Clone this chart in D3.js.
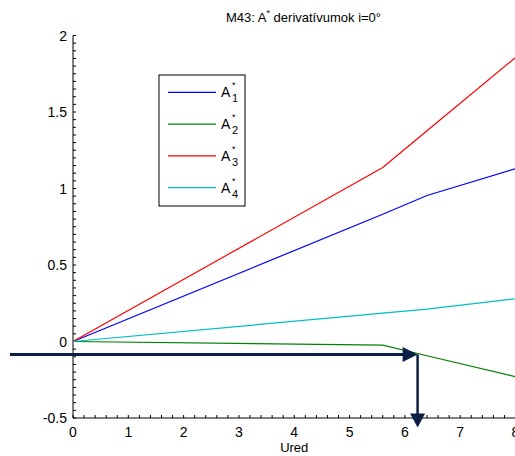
<!DOCTYPE html>
<html>
<head>
<meta charset="utf-8">
<script src="https://cdn.jsdelivr.net/npm/d3@7"></script>
<style>
  body { margin: 0; background: #fff; }
  svg { display: block; font-family: "Liberation Sans", Arial, sans-serif; }
</style>
</head>
<body>
<svg id="chart" width="515" height="456"></svg>
<script>
// data
var xs = [0, 5.6, 6.4, 8];
var a1 = [0, 0.832, 0.954, 1.13];
var a2 = [0, -0.024, -0.093, -0.23];
var a3 = [0, 1.137, 1.377, 1.856];
var a4 = [0, 0.185, 0.212, 0.279];
var seriesNames = ["1", "2", "3", "4"];
var seriesColors = ["#0000ff", "#008000", "#ff0000", "#00bfbf"];
var xTicks = [0, 1, 2, 3, 4, 5, 6, 7, 8];
var yTicks = [-0.5, 0, 0.5, 1, 1.5, 2];
// the arrow: from far left to the green line, then down
var arrowPts = [[-1.14, -0.085], [6.23, -0.085], [6.23, -0.562]];

var svg = d3.select("#chart");

var x = d3.scaleLinear().domain([0, 8]).range([73, 515.5]);
var y = d3.scaleLinear().domain([-0.5, 2]).range([418, 35.5]);

// axes, ticks point inward like matlab
var xMinor = d3.range(0, 8.001, 0.2);
var yMinor = d3.range(-0.5, 2.001, 0.05);

var gx = svg.append("g").attr("transform", "translate(0," + y(-0.5) + ")");
gx.append("line")
  .attr("x1", x(0)).attr("x2", x(8))
  .attr("stroke", "#000");
gx.selectAll(".minor").data(xMinor).enter().append("line")
  .attr("x1", function (d) { return x(d); })
  .attr("x2", function (d) { return x(d); })
  .attr("y1", 0).attr("y2", -3)
  .attr("stroke", "#000");
gx.selectAll("text").data(xTicks).enter().append("text")
  .attr("x", function (d) { return x(d); })
  .attr("y", 19)
  .attr("text-anchor", "middle")
  .attr("font-size", 14)
  .text(function (d) { return d; });

var gy = svg.append("g").attr("transform", "translate(" + x(0) + ",0)");
gy.append("line")
  .attr("y1", y(-0.5)).attr("y2", y(2))
  .attr("stroke", "#000");
gy.selectAll(".minor").data(yMinor).enter().append("line")
  .attr("y1", function (d) { return y(d); })
  .attr("y2", function (d) { return y(d); })
  .attr("x1", 0).attr("x2", 3)
  .attr("stroke", "#000");
gy.selectAll("text").data(yTicks).enter().append("text")
  .attr("x", -6)
  .attr("y", function (d) { return y(d) + 5; })
  .attr("text-anchor", "end")
  .attr("font-size", 14)
  .text(function (d) { return d; });

svg.append("text")
  .attr("x", x(4)).attr("y", 452)
  .attr("text-anchor", "middle")
  .attr("font-size", 13)
  .text("Ured");

// title
var title = svg.append("text")
  .attr("x", 226).attr("y", 22)
  .attr("font-size", 13);
title.append("tspan").text("M43: A");
title.append("tspan").attr("dy", -6).attr("font-size", 9).text("*");
title.append("tspan").attr("dy", 6).text(" derivatívumok i=0°");

// series
var series = [a1, a2, a3, a4];
var line = d3.line()
  .x(function (d) { return x(d[0]); })
  .y(function (d) { return y(d[1]); });

series.forEach(function (vals, i) {
  svg.append("path")
    .datum(d3.zip(xs, vals))
    .attr("d", line)
    .attr("fill", "none")
    .attr("stroke", seriesColors[i])
    .attr("stroke-width", 1.2);
});

// legend
var leg = svg.append("g");
leg.append("rect")
  .attr("x", 159).attr("y", 75)
  .attr("width", 86).attr("height", 131)
  .attr("fill", "#fff")
  .attr("stroke", "#000");

seriesNames.forEach(function (name, i) {
  var ly = 92.3 + i * 31.8;
  leg.append("line")
    .attr("x1", 168).attr("x2", 216)
    .attr("y1", ly).attr("y2", ly)
    .attr("stroke", seriesColors[i])
    .attr("stroke-width", 1.2);
  leg.append("text")
    .attr("x", 221).attr("y", ly + 5)
    .attr("font-size", 14)
    .text("A");
  leg.append("text")
    .attr("x", 232).attr("y", ly - 4)
    .attr("font-size", 9)
    .text("*");
  leg.append("text")
    .attr("x", 232).attr("y", ly + 10)
    .attr("font-size", 11)
    .text(name);
});

// annotation arrow
var navy = "#0b1f44";
var p0 = [x(arrowPts[0][0]), y(arrowPts[0][1])];
var p1 = [x(arrowPts[1][0]), y(arrowPts[1][1])];
var p2 = [x(arrowPts[2][0]), y(arrowPts[2][1])];

svg.append("line")
  .attr("x1", p0[0]).attr("y1", p0[1])
  .attr("x2", p1[0] - 14).attr("y2", p1[1])
  .attr("stroke", navy).attr("stroke-width", 3);
svg.append("path")
  .attr("d", "M" + (p1[0] - 15) + "," + (p1[1] - 7.5) +
    "L" + p1[0] + "," + p1[1] +
    "L" + (p1[0] - 15) + "," + (p1[1] + 7.5) + "Z")
  .attr("fill", navy);

svg.append("line")
  .attr("x1", p1[0]).attr("y1", p1[1])
  .attr("x2", p2[0]).attr("y2", p2[1] - 13)
  .attr("stroke", navy).attr("stroke-width", 2.5);
svg.append("path")
  .attr("d", "M" + (p2[0] - 7.5) + "," + (p2[1] - 14) +
    "L" + p2[0] + "," + p2[1] +
    "L" + (p2[0] + 7.5) + "," + (p2[1] - 14) + "Z")
  .attr("fill", navy);
</script>
</body>
</html>
